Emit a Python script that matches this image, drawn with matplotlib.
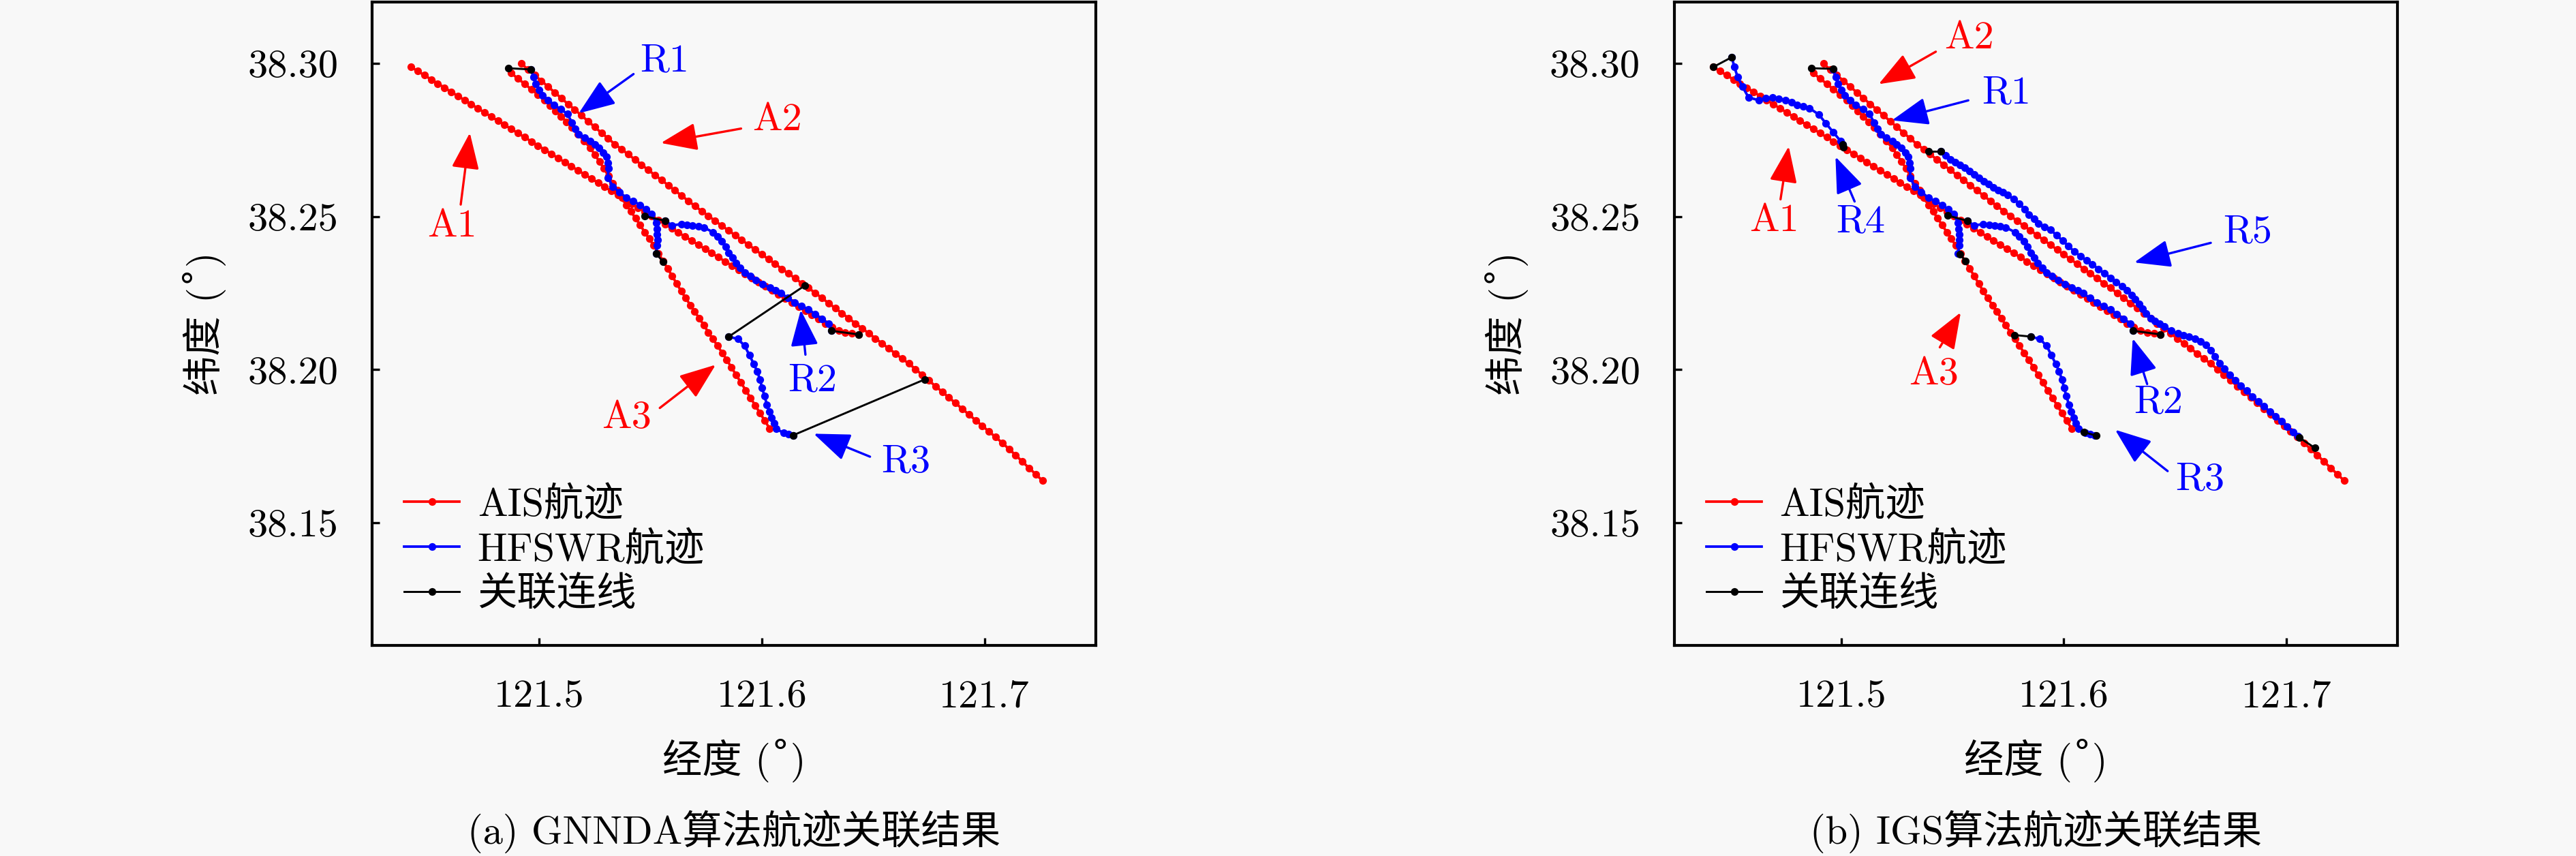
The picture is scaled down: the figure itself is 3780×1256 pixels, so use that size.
import matplotlib
matplotlib.use('Agg')
import matplotlib.pyplot as plt
from matplotlib.ticker import FormatStrFormatter

plt.rcParams['font.family'] = ['cmr10', 'DejaVu Serif', 'Noto Sans CJK SC']
plt.rcParams['axes.unicode_minus'] = False
plt.rcParams['font.size'] = 14

# ---- AIS tracks (same in both panels) ----
a1_lon = [121.4425, 121.4455, 121.4485, 121.4515, 121.4545, 121.4575, 121.4605, 121.4635, 121.4665, 121.4695,
          121.4725, 121.4755, 121.4785, 121.4815, 121.4845, 121.4875, 121.4905, 121.4935, 121.4965, 121.4995,
          121.5025, 121.5055, 121.5085, 121.5115, 121.5145, 121.5175, 121.5205, 121.5235, 121.5265, 121.5295,
          121.5325, 121.5355, 121.5385, 121.5415, 121.5445, 121.5475, 121.5505, 121.5535, 121.5565, 121.5595,
          121.5625, 121.5655, 121.5685, 121.5715, 121.5745, 121.5775, 121.5805, 121.5835, 121.5865, 121.5895,
          121.5925, 121.5955, 121.5985, 121.6015, 121.6045, 121.6075, 121.6105, 121.6135, 121.6165, 121.6195,
          121.6225, 121.6255, 121.6285, 121.6315, 121.6345, 121.6375, 121.6405, 121.6435]
a1_lat = [38.2988, 38.29745, 38.2961, 38.29475, 38.2934, 38.29205, 38.2907, 38.28935, 38.2880, 38.28665,
          38.2853, 38.28395, 38.2826, 38.28125, 38.2799, 38.27855, 38.2772, 38.27585, 38.2745, 38.27315,
          38.2718, 38.27045, 38.2691, 38.26775, 38.2664, 38.26505, 38.2637, 38.26235, 38.2610, 38.25965,
          38.2583, 38.25695, 38.2556, 38.25425, 38.2529, 38.25155, 38.2502, 38.24885, 38.2475, 38.24615,
          38.2448, 38.24345, 38.2421, 38.24075, 38.2394, 38.23805, 38.2367, 38.23535, 38.2340, 38.23265,
          38.2313, 38.22995, 38.2286, 38.22725, 38.2259, 38.22455, 38.2232, 38.22185, 38.2205, 38.21915,
          38.2178, 38.21645, 38.2151, 38.2138, 38.2128, 38.2122, 38.2118, 38.2115]

a2_lon = [121.492, 121.495, 121.498, 121.501, 121.504, 121.507, 121.510, 121.513, 121.516, 121.519,
          121.522, 121.525, 121.528, 121.531, 121.534, 121.537, 121.540, 121.543, 121.546, 121.549,
          121.552, 121.555, 121.558, 121.561, 121.564, 121.567, 121.570, 121.573, 121.576, 121.579,
          121.582, 121.585, 121.588, 121.591, 121.594, 121.597, 121.600, 121.603, 121.606, 121.609,
          121.612, 121.615, 121.618, 121.621, 121.624, 121.627, 121.630, 121.633, 121.636, 121.639,
          121.642, 121.645, 121.648, 121.651, 121.654, 121.657, 121.660, 121.663, 121.666, 121.669,
          121.672, 121.675, 121.678, 121.681, 121.684, 121.687, 121.690, 121.693, 121.696, 121.699,
          121.702, 121.705, 121.708, 121.711, 121.714, 121.717, 121.720, 121.723, 121.726]
a2_lat = [38.2999, 38.2980, 38.2961, 38.2943, 38.2924, 38.2905, 38.2886, 38.2867, 38.2849, 38.2830,
          38.2811, 38.2792, 38.2773, 38.2755, 38.2736, 38.2720, 38.2703, 38.2686, 38.2669, 38.2652,
          38.2635, 38.2619, 38.2602, 38.2585, 38.2568, 38.2551, 38.2534, 38.2518, 38.2502, 38.2486,
          38.2470, 38.2455, 38.2439, 38.2423, 38.2408, 38.2392, 38.2376, 38.2361, 38.2345, 38.2329,
          38.2314, 38.2298, 38.2282, 38.2267, 38.2250, 38.2234, 38.2217, 38.2201, 38.2184, 38.2168,
          38.2151, 38.2135, 38.2119, 38.2102, 38.2086, 38.2069, 38.2053, 38.2036, 38.2020, 38.2002,
          38.1983, 38.1965, 38.1946, 38.1928, 38.1909, 38.1891, 38.1872, 38.1854, 38.1835, 38.1817,
          38.1798, 38.1780, 38.1761, 38.1741, 38.1721, 38.1700, 38.1679, 38.1659, 38.1638]

a3_lon = [121.4875, 121.4905, 121.4935, 121.4965, 121.4995, 121.5025, 121.5050, 121.5074, 121.5099, 121.5123,
          121.5148, 121.5175, 121.5203, 121.5230, 121.5250, 121.5271, 121.5291, 121.5311, 121.5331, 121.5352,
          121.5372, 121.5392, 121.5413, 121.5433, 121.5454, 121.5474, 121.5495, 121.5515, 121.5536, 121.5556,
          121.5577, 121.5597, 121.5618, 121.5638, 121.5658, 121.5679, 121.5699, 121.5720, 121.5740, 121.5760,
          121.5781, 121.5801, 121.5822, 121.5842, 121.5863, 121.5885, 121.5906, 121.5928, 121.5949, 121.5971,
          121.5992, 121.6014, 121.6035]
a3_lat = [38.2968, 38.2950, 38.2933, 38.2915, 38.2898, 38.2880, 38.2862, 38.2844, 38.2827, 38.2809,
          38.2791, 38.2769, 38.2746, 38.2724, 38.2702, 38.2679, 38.2657, 38.2633, 38.2609, 38.2586,
          38.2562, 38.2538, 38.2516, 38.2494, 38.2472, 38.2449, 38.2427, 38.2405, 38.2380, 38.2355,
          38.2331, 38.2306, 38.2281, 38.2256, 38.2234, 38.2211, 38.2189, 38.2167, 38.2145, 38.2122,
          38.2100, 38.2078, 38.2055, 38.2033, 38.2008, 38.1983, 38.1958, 38.1933, 38.1908, 38.1883,
          38.1858, 38.1833, 38.1808]

# ---- HFSWR tracks ----
r1_lon = [121.4964, 121.4975, 121.4985, 121.5000, 121.5015, 121.5041, 121.5066, 121.5097, 121.5127, 121.5148,
          121.5163, 121.5178, 121.5204, 121.5230, 121.5250, 121.5270, 121.5287, 121.5302, 121.5308, 121.5311,
          121.5309, 121.5331, 121.5360, 121.5392, 121.5423, 121.5454, 121.5480, 121.5505, 121.5525, 121.5528,
          121.5530, 121.5531, 121.5530, 121.5525]
r1_lat = [38.2980, 38.2956, 38.2932, 38.2914, 38.2895, 38.2880, 38.2865, 38.2850, 38.2835, 38.2806,
          38.2787, 38.2768, 38.2757, 38.2746, 38.2735, 38.2724, 38.2709, 38.2694, 38.2676, 38.2657,
          38.2627, 38.2598, 38.2580, 38.2561, 38.2550, 38.2538, 38.2524, 38.2509, 38.2479, 38.2460,
          38.2442, 38.2423, 38.2405, 38.2379]

r2_lon = [121.5566, 121.5597, 121.5638, 121.5664, 121.5689, 121.5715, 121.5740, 121.5781, 121.5801, 121.5821,
          121.5837, 121.5852, 121.5868, 121.5883, 121.5903, 121.5923, 121.5948, 121.5974, 121.6005, 121.6036,
          121.6062, 121.6087, 121.6118, 121.6148, 121.6179, 121.6209, 121.6239, 121.6269, 121.6300, 121.6312]
r2_lat = [38.2486, 38.2471, 38.2475, 38.2473, 38.2471, 38.2468, 38.2464, 38.2449, 38.2435, 38.2420,
          38.2401, 38.2382, 38.2366, 38.2349, 38.2332, 38.2316, 38.2305, 38.2293, 38.2280, 38.2267,
          38.2258, 38.2249, 38.2234, 38.2219, 38.2208, 38.2197, 38.2182, 38.2166, 38.2150, 38.2127]

r3_lon = [121.5852, 121.5893, 121.5923, 121.5944, 121.5964, 121.5979, 121.5992, 121.6001, 121.6012, 121.6023,
          121.6033, 121.6044, 121.6055, 121.6066, 121.6098, 121.6120, 121.6141]
r3_lat = [38.2108, 38.2100, 38.2078, 38.2048, 38.2019, 38.1995, 38.1968, 38.1942, 38.1914, 38.1886,
          38.1864, 38.1843, 38.1825, 38.1807, 38.1793, 38.1789, 38.1786]

r4_lon = [121.4508, 121.4519, 121.4534, 121.4555, 121.4583, 121.4631, 121.4661, 121.4691, 121.4720, 121.4749,
          121.4776, 121.4802, 121.4829, 121.4856, 121.4899, 121.4931, 121.4963, 121.4996, 121.5006]
r4_lat = [38.3020, 38.2989, 38.2956, 38.2925, 38.2889, 38.2879, 38.2886, 38.2889, 38.2884, 38.2879,
          38.2872, 38.2865, 38.2860, 38.2854, 38.2833, 38.2804, 38.2776, 38.2747, 38.2736]

r5_lon = [121.5447, 121.5469, 121.5490, 121.5512, 121.5533, 121.5555, 121.5576, 121.5598, 121.5619, 121.5641,
          121.5662, 121.5684, 121.5705, 121.5727, 121.5748, 121.5775, 121.5801, 121.5823, 121.5844, 121.5866,
          121.5887, 121.5914, 121.5941, 121.5968, 121.5995, 121.6022, 121.6048, 121.6075, 121.6102, 121.6129,
          121.6156, 121.6183, 121.6209, 121.6236, 121.6263, 121.6285, 121.6306, 121.6322, 121.6338, 121.6355,
          121.6371, 121.6391, 121.6411, 121.6432, 121.6452, 121.6483, 121.6513, 121.6539, 121.6564, 121.6590,
          121.6615, 121.6640, 121.6660, 121.6680, 121.6700, 121.6722, 121.6745, 121.6770, 121.6796, 121.6822,
          121.6848, 121.6874, 121.6900, 121.6926, 121.6952, 121.6978, 121.7004, 121.7030, 121.7052]
r5_lat = [38.2712, 38.2699, 38.2686, 38.2678, 38.2669, 38.2659, 38.2648, 38.2638, 38.2627, 38.2616,
          38.2605, 38.2596, 38.2587, 38.2579, 38.2570, 38.2556, 38.2542, 38.2524, 38.2506, 38.2492,
          38.2478, 38.2467, 38.2456, 38.2439, 38.2421, 38.2403, 38.2385, 38.2371, 38.2357, 38.2343,
          38.2329, 38.2315, 38.2300, 38.2286, 38.2272, 38.2258, 38.2244, 38.2230, 38.2215, 38.2198,
          38.2184, 38.2168, 38.2160, 38.2150, 38.2142, 38.2127, 38.2118, 38.2112, 38.2108, 38.2102,
          38.2093, 38.2081, 38.2064, 38.2044, 38.2022, 38.2003, 38.1984, 38.1966, 38.1948, 38.1931,
          38.1913, 38.1896, 38.1880, 38.1864, 38.1847, 38.1831, 38.1814, 38.1797, 38.1782]

# ---- association links: (lon1, lat1, lon2, lat2) ----
links_a = [(121.4862, 38.2984, 121.4964, 38.2980),
           (121.5474, 38.2501, 121.5566, 38.2486),
           (121.5525, 38.2379, 121.5556, 38.2353),
           (121.6312, 38.2127, 121.6435, 38.2115),
           (121.5852, 38.2108, 121.6194, 38.2275),
           (121.6141, 38.1786, 121.6731, 38.1968)]
links_b = [(121.4425, 38.2988, 121.4508, 38.3020),
           (121.5006, 38.2736, 121.5010, 38.2727),
           (121.4867, 38.2984, 121.4963, 38.2982),
           (121.5393, 38.2712, 121.5447, 38.2712),
           (121.5479, 38.2503, 121.5566, 38.2486),
           (121.5533, 38.2378, 121.5559, 38.2354),
           (121.6312, 38.2127, 121.6435, 38.2115),
           (121.5780, 38.2113, 121.5852, 38.2108),
           (121.6091, 38.1796, 121.6145, 38.1785),
           (121.7060, 38.1778, 121.7128, 38.1745)]

# ---- labels with arrows: (text, colour, text_x, text_y, tail_x, tail_y, tip_x, tip_y) ----
notes_a = [('R1', 'b', 121.5564, 38.3007, 121.5424, 38.2965, 121.5178, 38.2837),
           ('A2', 'r', 121.6068, 38.2815, 121.5907, 38.2787, 121.5547, 38.2740),
           ('A1', 'r', 121.4610, 38.2468, 121.4648, 38.2539, 121.4689, 38.2773),
           ('A3', 'r', 121.5392, 38.1843, 121.5542, 38.1875, 121.5793, 38.2016),
           ('R2', 'b', 121.6228, 38.1964, 121.6196, 38.2049, 121.6175, 38.2195),
           ('R3', 'b', 121.6646, 38.1699, 121.6486, 38.1716, 121.6233, 38.1791)]
notes_b = [('A2', 'r', 121.5576, 38.3081, 121.5425, 38.3038, 121.5168, 38.2932),
           ('R1', 'b', 121.5743, 38.2903, 121.5571, 38.2879, 121.5228, 38.2814),
           ('A1', 'r', 121.4699, 38.2485, 121.4727, 38.2556, 121.4764, 38.2729),
           ('R4', 'b', 121.5086, 38.2482, 121.5060, 38.2549, 121.4974, 38.2695),
           ('R5', 'b', 121.6826, 38.2449, 121.6661, 38.2414, 121.6317, 38.2350),
           ('A3', 'r', 121.5415, 38.1985, 121.5443, 38.2073, 121.5537, 38.2187),
           ('R2', 'b', 121.6424, 38.1892, 121.6375, 38.1953, 121.6310, 38.2102),
           ('R3', 'b', 121.6611, 38.1640, 121.6467, 38.1669, 121.6231, 38.1804)]

captions = ['(a) GNNDA算法航迹关联结果', '(b) IGS算法航迹关联结果']
xlabel = '经度 (\u02da)'
ylabel = '纬度 (\u02da)'

RED = '#ff0000'
BLUE = '#0000ff'
BG = '#f8f8f8'
COLS = {'r': RED, 'b': BLUE}


def track(ax, lon, lat, c, label=None):
    ax.plot(lon, lat, '-', color=c, lw=0.9, marker='o', ms=2.7, mew=0, label=label)


def panel(ax, radar, links, notes):
    ax.set_facecolor(BG)
    track(ax, a1_lon, a1_lat, RED, 'AIS航迹')
    track(ax, a2_lon, a2_lat, RED)
    track(ax, a3_lon, a3_lat, RED)
    for k, (lo, la) in enumerate(radar):
        track(ax, lo, la, BLUE, 'HFSWR航迹' if k == 0 else None)
    for k, (x1, y1, x2, y2) in enumerate(links):
        ax.plot([x1, x2], [y1, y2], '-', color='k', lw=0.7, marker='o', ms=2.7, mew=0,
                label='关联连线' if k == 0 else None)
    for txt, c, tx, ty, x0, y0, x1, y1 in notes:
        ax.annotate('', xy=(x1, y1), xytext=(x0, y0),
                    arrowprops=dict(arrowstyle='-|>,head_length=1.1,head_width=0.42',
                                    color=COLS[c], lw=0.8, mutation_scale=10,
                                    shrinkA=0, shrinkB=0))
        ax.text(tx, ty, txt, color=COLS[c], ha='center', va='center', fontsize=14)
    ax.set_xlim(121.4250, 121.7500)
    ax.set_ylim(38.11, 38.32)
    ax.set_xticks([121.5, 121.6, 121.7])
    ax.set_yticks([38.15, 38.20, 38.25, 38.30])
    ax.xaxis.set_major_formatter(FormatStrFormatter('%.1f'))
    ax.yaxis.set_major_formatter(FormatStrFormatter('%.2f'))
    ax.tick_params(direction='in', length=2.6, width=0.8, pad=12, labelsize=14,
                   top=False, right=False)
    for s in ax.spines.values():
        s.set_linewidth(1.0)
    ax.legend(loc='lower left', bbox_to_anchor=(0.044, 0.05), frameon=False,
              borderaxespad=0, borderpad=0, handlelength=1.4, handletextpad=0.45,
              labelspacing=0.2, numpoints=1, fontsize=14)


fig = plt.figure(figsize=(12.6, 1256 / 300), dpi=300, facecolor=BG)
boxes = [[546 / 3780, 309 / 1256, 1062 / 3780, 944 / 1256],
         [2457 / 3780, 309 / 1256, 1061 / 3780, 944 / 1256]]
axL = fig.add_axes(boxes[0])
axR = fig.add_axes(boxes[1])
panel(axL, [(r1_lon, r1_lat), (r2_lon, r2_lat), (r3_lon, r3_lat)], links_a, notes_a)
panel(axR, [(r1_lon, r1_lat), (r2_lon, r2_lat), (r3_lon, r3_lat), (r4_lon, r4_lat),
            (r5_lon, r5_lat)], links_b, notes_b)

for b, cap in zip(boxes, captions):
    cx = b[0] + b[2] / 2
    fig.text(cx, 1 - 1116 / 1256, xlabel, ha='center', va='center', fontsize=14)
    fig.text(cx, 1 - 1220 / 1256, cap, ha='center', va='center', fontsize=14)
    fig.text(b[0] - 246 / 3780, b[1] + b[3] / 2, ylabel, rotation=90,
             ha='center', va='center', fontsize=14)

fig.savefig('out.png', dpi=300, facecolor=BG)
